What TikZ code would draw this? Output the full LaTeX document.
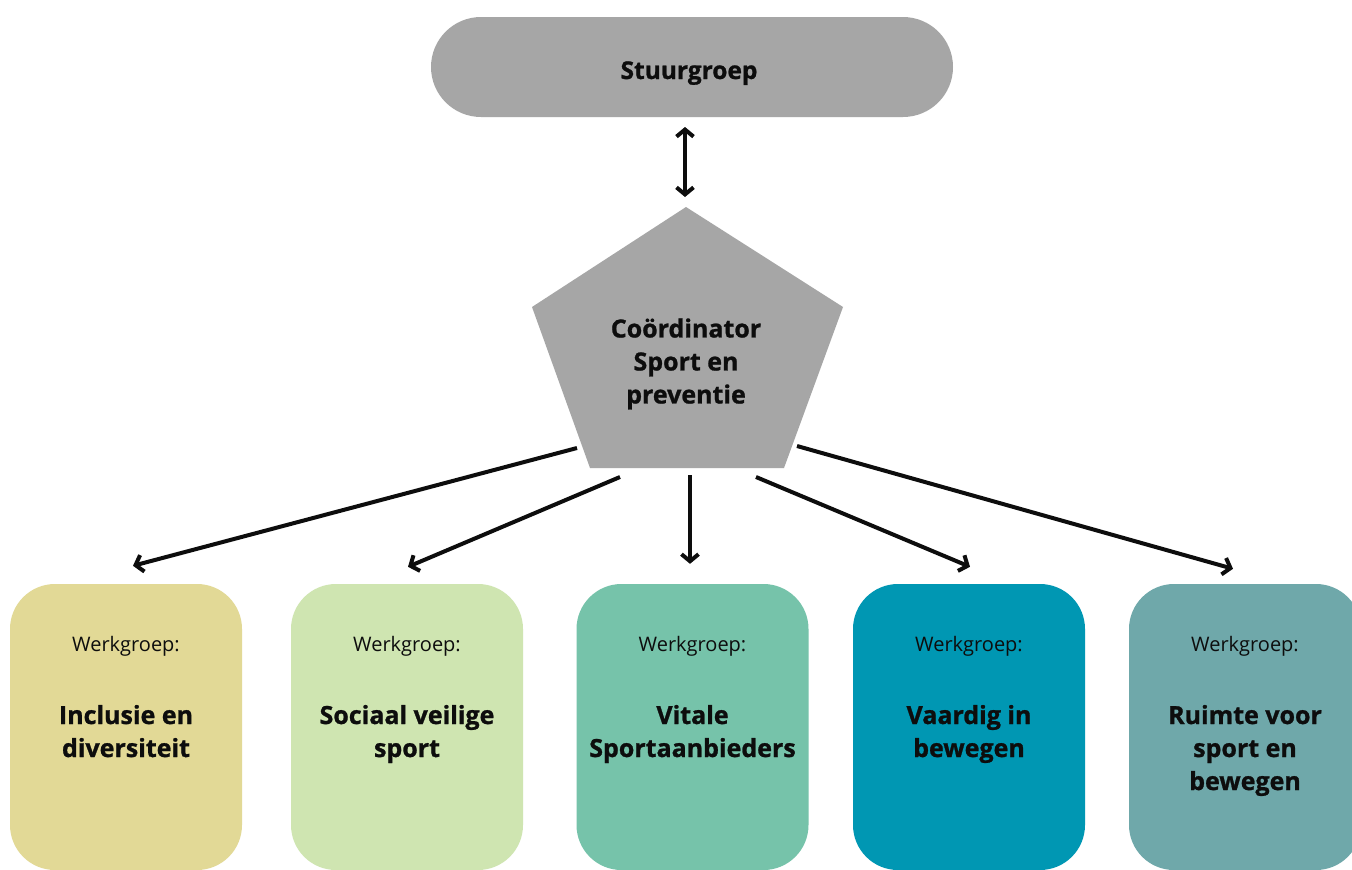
\documentclass[tikz,border=0pt]{standalone}
\usepackage{fontspec}
\setmainfont{Open Sans}
\usetikzlibrary{arrows.meta}
\definecolor{pillgray}{HTML}{A6A6A6}
\definecolor{txt}{HTML}{0D0D0D}
\definecolor{cA}{HTML}{E2D996}
\definecolor{cB}{HTML}{CFE5B1}
\definecolor{cC}{HTML}{76C3AA}
\definecolor{cD}{HTML}{0097B3}
\definecolor{cE}{HTML}{6FA8AA}
\newcommand{\heavytext}{\bfseries\addfontfeatures{FakeBold=1}}
\tikzset{
  pill/.style={fill=pillgray, rounded corners=50pt, minimum width=522pt, minimum height=100pt, inner sep=0pt},
  pilltext/.style={text=txt, font=\fontsize{24.5}{30}\selectfont\heavytext, inner sep=0pt, anchor=base},
  wgbox/.style={rounded corners=45pt, minimum width=232pt, minimum height=286pt, inner sep=0pt},
  wglabel/.style={text=txt, font=\fontsize{20}{24}\selectfont, inner sep=0pt, anchor=base},
  wgtitle/.style={text=txt, font=\fontsize{25}{33}\selectfont\heavytext, align=center, inner sep=0pt, anchor=north},
  cotext/.style={text=txt, font=\fontsize{25}{33}\selectfont\heavytext, align=center, inner sep=0pt},
  conn/.style={line width=4pt, draw=txt, -{Straight Barb[length=7pt,width=17pt]}},
  dconn/.style={line width=4pt, draw=txt, {Straight Barb[length=7pt,width=17pt]}-{Straight Barb[length=7pt,width=17pt]}}
}
\begin{document}
\begin{tikzpicture}[x=1pt,y=-1pt]
\useasboundingbox (0,0) rectangle (1352,870);
\fill[white] (0,0) rectangle (1352,870);
\clip (0,0) rectangle (1352,870);

% Stuurgroep
\node[pill] (stuur) at (692,67) {};
\node[pilltext] (stuurtxt) at (689,79) {Stuurgroep};

% Pentagon
\coordinate (pT) at (686,207);
\coordinate (pR) at (843,307);
\coordinate (pBR) at (784,468);
\coordinate (pBL) at (590,468);
\coordinate (pL) at (532,307);
\fill[pillgray] (pT) -- (pR) -- (pBR) -- (pBL) -- (pL) -- cycle;
\node[cotext] (coord) at (686,364) {Coördinator\\Sport en\\preventie};

% double arrow
\coordinate (dA) at (685,127);
\coordinate (dB) at (685,197);
\draw[dconn] (dA) -- (dB);

% boxes
\node[wgbox, fill=cA] (b1) at (126,727) {};
\node[wgbox, fill=cB] (b2) at (407,727) {};
\node[wgbox, fill=cC] (b3) at (692.5,727) {};
\node[wgbox, fill=cD] (b4) at (969,727) {};
\node[wgbox, fill=cE] (b5) at (1245,727) {};

\foreach \b in {b1,b2,b3,b4,b5}{
  \node[wglabel] (\b l) at ([yshift=-68pt]\b.north) {Werkgroep:};
}
\node[wgtitle] (t1) at ([yshift=-121pt]b1.north) {Inclusie en\\diversiteit};
\node[wgtitle] (t2) at ([yshift=-121pt]b2.north) {Sociaal veilige\\sport};
\node[wgtitle] (t3) at ([yshift=-121pt]b3.north) {Vitale\\Sportaanbieders};
\node[wgtitle] (t4) at ([yshift=-121pt]b4.north) {Vaardig in\\bewegen};
\node[wgtitle] (t5) at ([yshift=-121pt]b5.north) {Ruimte voor\\sport en\\bewegen};

% connectors
\coordinate (s1) at (577,448);
\coordinate (s2) at (620,477);
\coordinate (s3) at (690,475);
\coordinate (s4) at (756,477);
\coordinate (s5) at (797,446);
\draw[conn] (s1) -- ([xshift=7pt,yshift=18pt]b1.north);
\draw[conn] (s2) -- ([xshift=1pt,yshift=17pt]b2.north);
\draw[conn] (s3) -- ([xshift=-2.5pt,yshift=20pt]b3.north);
\draw[conn] (s4) -- ([xshift=1pt,yshift=17pt]b4.north);
\draw[conn] (s5) -- ([xshift=-12pt,yshift=15pt]b5.north);
\end{tikzpicture}
\end{document}
